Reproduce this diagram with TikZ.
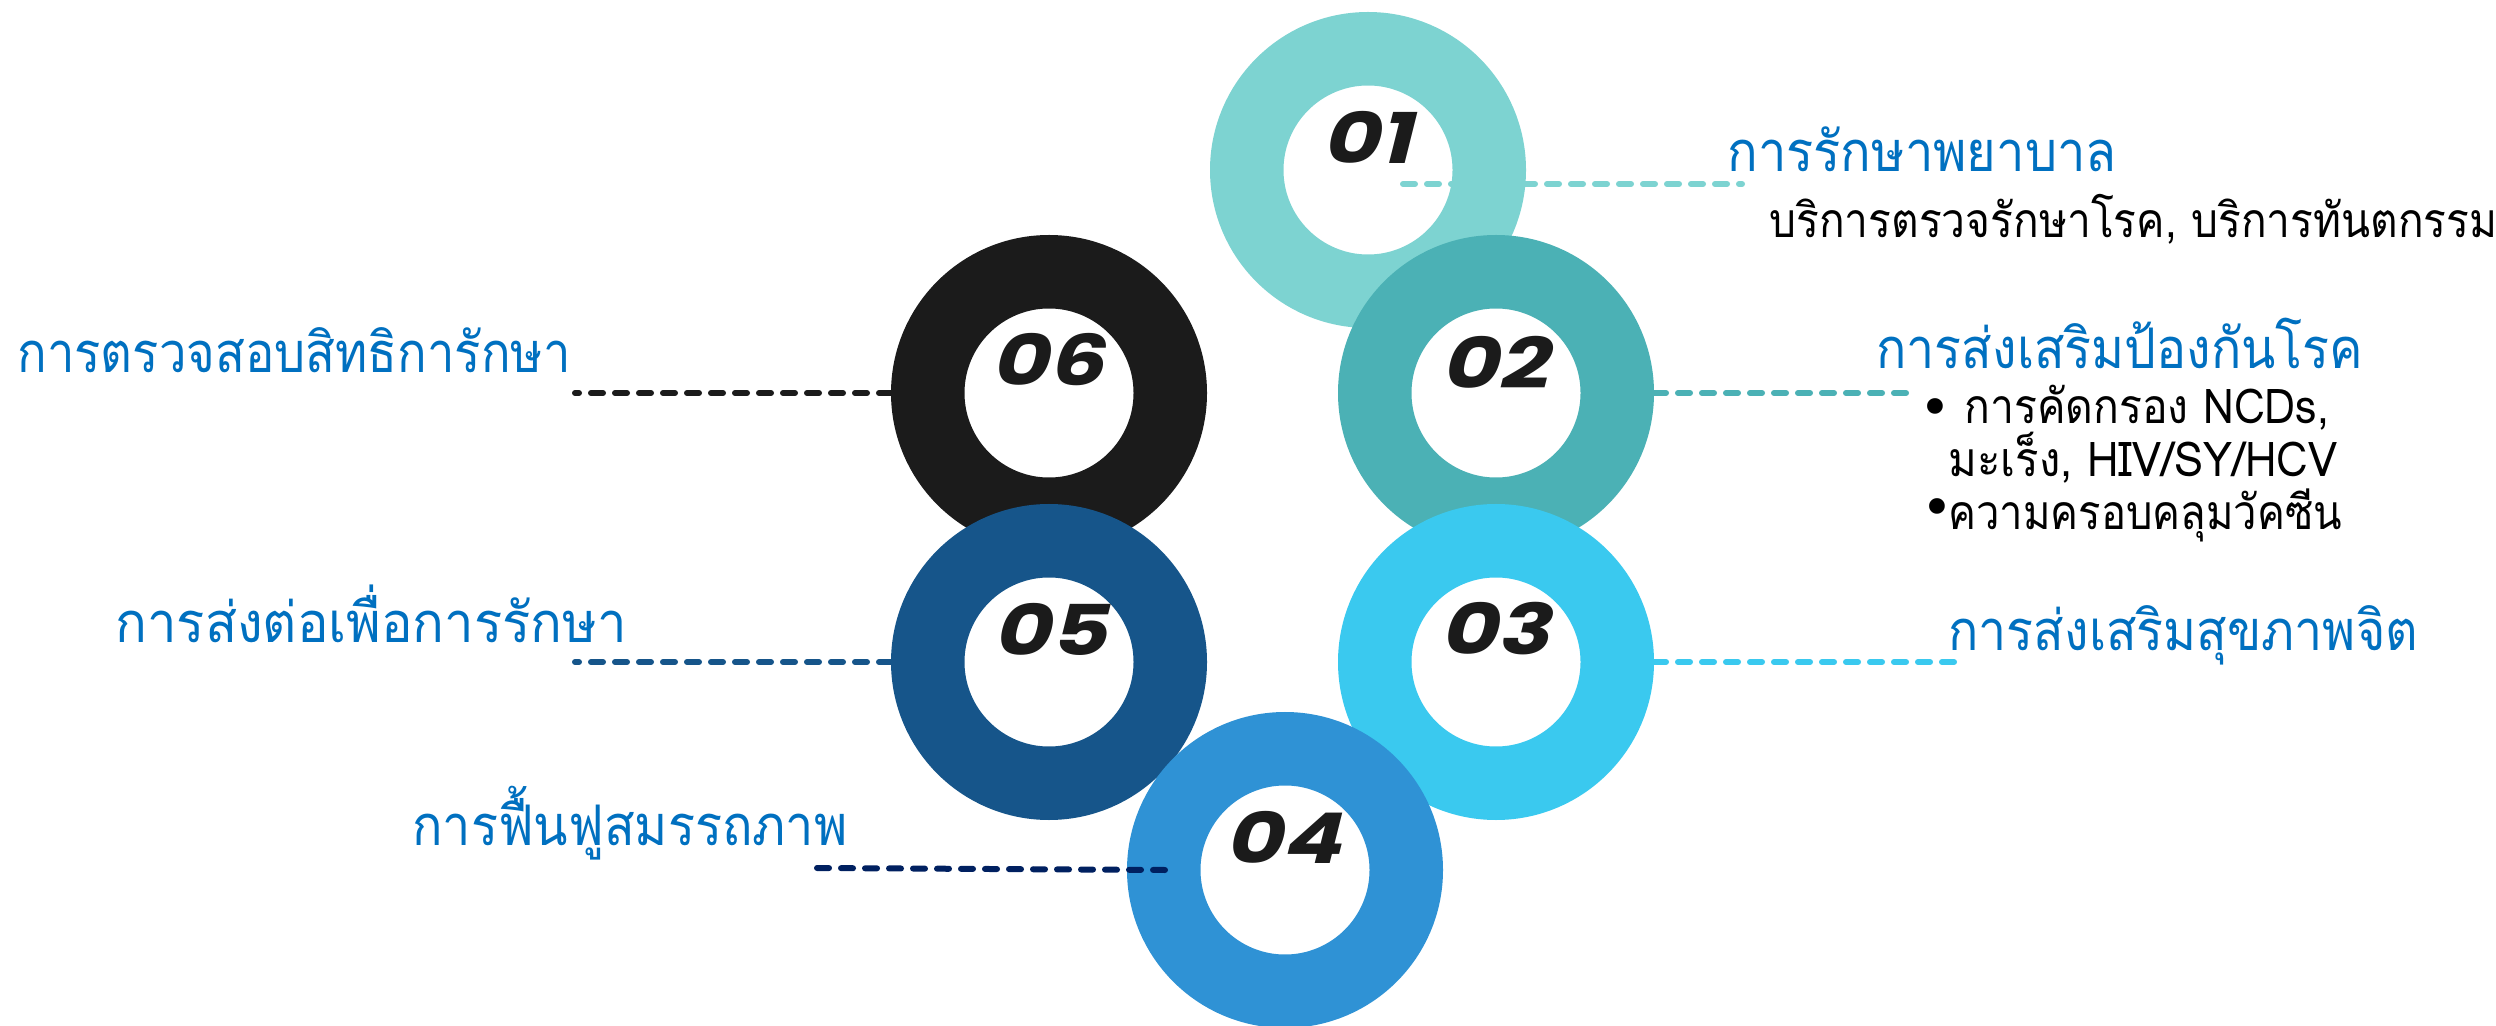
\documentclass[tikz,border=0pt]{standalone}
\usepackage{fontspec}
\newfontfamily\thaifont[Script=Thai]{Loma}
\newfontfamily\numfont[FakeSlant=0.2]{Poppins}
\newfontfamily\symfont{DejaVu Sans}
\newcommand\hsc[2]{\scalebox{#1}[1]{#2}}
\definecolor{cA}{HTML}{7DD3D1}
\definecolor{cB}{HTML}{4BB1B5}
\definecolor{cC}{HTML}{3AC9EF}
\definecolor{cD}{HTML}{2F92D5}
\definecolor{cE}{HTML}{16558A}
\definecolor{cF}{HTML}{1B1B1B}
\definecolor{navy}{HTML}{002060}
\definecolor{titleblue}{HTML}{0070C0}
\begin{document}
\begin{tikzpicture}[x=0.5pt,y=-0.5pt,
  ring/.style={circle,inner sep=0pt,outer sep=18.375pt,minimum size=121.25pt,line width=36.75pt,fill=white},
  num/.style={font=\numfont\bfseries\fontsize{35}{35}\selectfont,text=cF,inner sep=0pt},
  title/.style={font=\thaifont\fontsize{28}{30}\selectfont,text=titleblue,anchor=base west,inner sep=0pt},
  body/.style={font=\thaifont\fontsize{24}{26}\selectfont,text=black,anchor=base west,inner sep=0pt},
  bul/.style={font=\symfont\fontsize{27}{27}\selectfont,text=black,inner sep=0pt,anchor=base,text height=7pt,text depth=0pt},
  conn/.style={line width=3pt,line cap=round,dash pattern=on 6pt off 6pt}]
\useasboundingbox (0,0) rectangle (2496,1026);
\fill[white] (0,0) rectangle (2496,1026);
% rings
\node[ring,draw=cA] (r1) at (1368,170) {};
\node[ring,draw=cB] (r2) at (1496,393) {};
\node[ring,draw=cF] (r6) at (1049,393) {};
\node[ring,draw=cE] (r5) at (1049,662) {};
\node[ring,draw=cC] (r3) at (1496,662) {};
\node[ring,draw=cD] (r4) at (1285,870) {};
% connector ends
\coordinate (e1a) at (1403,184);
\coordinate (e1b) at (1742,184);
\coordinate (e2) at (1910,393);
\coordinate (e3) at (1964,662);
\coordinate (e4a) at (1165,870);
\coordinate (e4b) at (815,868);
\coordinate (e5) at (575,662);
\coordinate (e6) at (575,393);
% connectors
\draw[conn,cA] (e1a) -- (e1b);
\draw[conn,cB] (r2.east) -- (e2);
\draw[conn,cC] (r3.east) -- (e3);
\draw[conn,navy] (e4a) -- (e4b);
\draw[conn,cE] (r5.west) -- (e5);
\draw[conn,cF] (r6.west) -- (e6);
% numbers
\node[num] (n1) at (1366,137) {\hsc{1.25}{01}};
\node[num] (n2) at (1494,362) {\hsc{1.25}{02}};
\node[num] (n3) at (1494,629) {\hsc{1.25}{03}};
\node[num] (n4) at (1283,837) {\hsc{1.25}{04}};
\node[num] (n5) at (1049,629) {\hsc{1.25}{05}};
\node[num] (n6) at (1047,360) {\hsc{1.25}{06}};
% titles
\node[title] (t1) at (1727,172) {\hsc{0.905}{การรักษาพยาบาล}};
\node[title] (t2) at (1876,369) {\hsc{0.896}{การส่งเสริมป้องกันโรค}};
\node[title] (t3) at (1948,650) {\hsc{0.896}{การส่งเสริมสุขภาพจิต}};
\node[title] (t4) at (412,845) {\hsc{0.90}{การฟื้นฟูสมรรถภาพ}};
\node[title] (t5) at (115,642) {\hsc{0.94}{การส่งต่อเพื่อการรักษา}};
\node[title] (t6) at (17,373) {\hsc{0.875}{การตรวจสอบสิทธิการักษา}};
% body texts
\node[body] (s1) at (1769,238) {\hsc{0.885}{บริการตรวจรักษาโรค, บริการทันตกรรม}};
\node[bul] (k1) at (1935,427) {•};
\node[body] (s2) at (1964,424) {\hsc{0.89}{การคัดกรอง NCDs,}};
\node[body] (s3) at (1948,477) {\hsc{0.91}{มะเร็ง, HIV/SY/HCV}};
\node[bul] (k2) at (1937,527) {•};
\node[body] (s4) at (1948,530) {\hsc{0.87}{ความครอบคลุมวัคซีน}};
\end{tikzpicture}
\end{document}
